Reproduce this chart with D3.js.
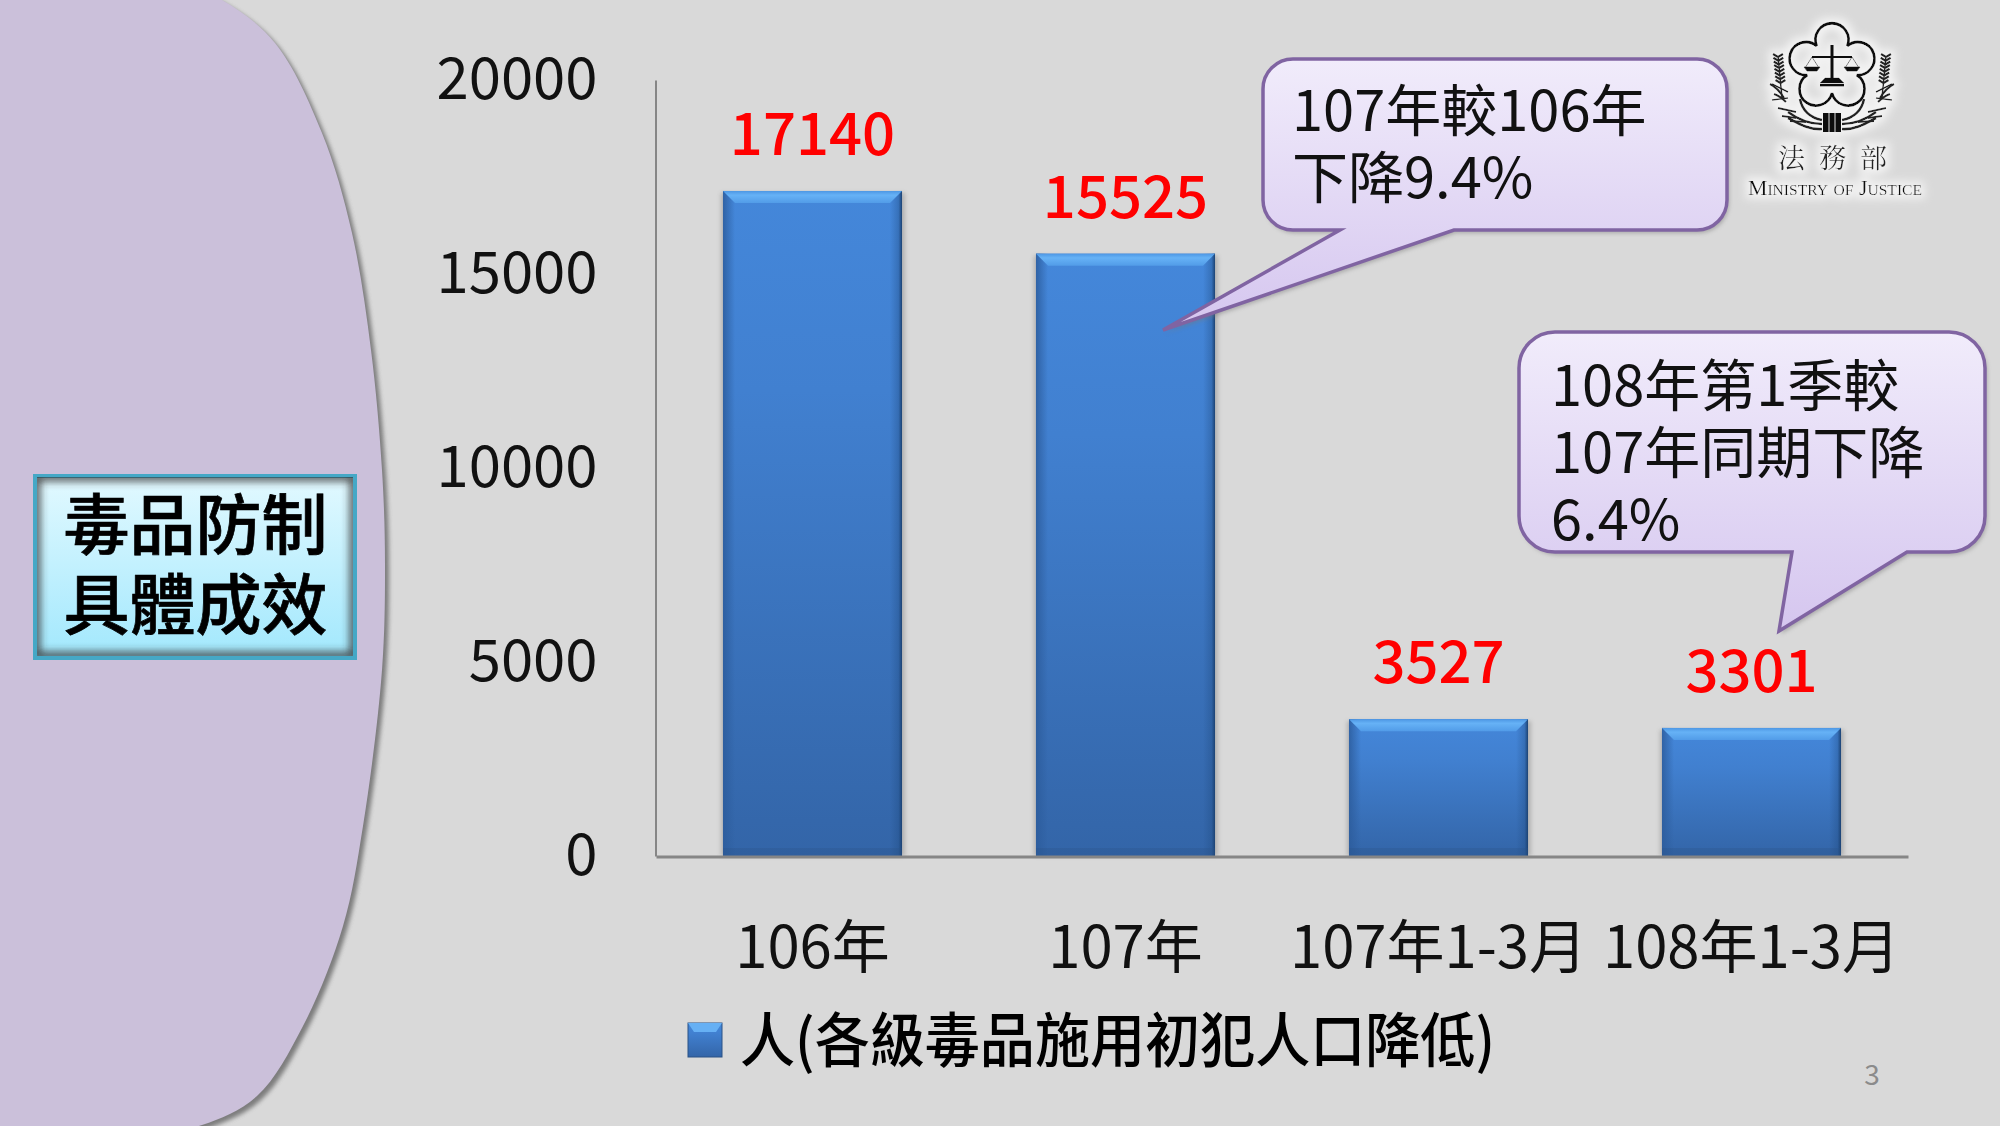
<!DOCTYPE html>
<html><head><meta charset="utf-8">
<script src="https://cdn.jsdelivr.net/npm/d3@7"></script>
<style>html,body{margin:0;padding:0;background:#d9d9d9}svg{display:block}text{font-family:"Noto Sans CJK TC","Noto Sans",sans-serif}</style>
</head><body><svg id="c" width="2000" height="1126"></svg>
<script>
const categories = ["106年","107年","107年1-3月","108年1-3月"];
const personValues = [17140,15525,3527,3301];
const yTicks = [0,5000,10000,15000,20000];
const legendLabel = "人(各級毒品施用初犯人口降低)";
const titleLines = ["毒品防制","具體成效"];
const note1 = ["107年較106年","下降9.4%"];
const note2 = ["108年第1季較","107年同期下降","6.4%"];

const svg = d3.select("#c");
const defs = svg.append("defs");
function lin(id, stops, horiz){
  const g = defs.append("linearGradient").attr("id",id).attr("x1",0).attr("y1",0).attr("x2",horiz?1:0).attr("y2",horiz?0:1);
  stops.forEach(([o,c,a])=>g.append("stop").attr("offset",o).attr("stop-color",c).attr("stop-opacity",a===undefined?1:a));
}
lin("barG",[[0,"#4487da"],[0.3,"#4180d0"],[1,"#3365a8"]]);
lin("noteG",[[0,"#f1ecfb"],[1,"#d5c6ef"]]);
lin("titleG",[[0,"#e2f9ff"],[1,"#a2e8fd"]]);
lin("bevT",[[0,"#4d97e4"],[0.35,"#66b2f6"],[1,"#529ce8"]]);
lin("bevL",[[0,"#2c5c9c",.85],[1,"#2c5c9c",0]],true);
lin("bevR",[[0,"#1f4a80",0],[0.7,"#1f4a80",.35],[1,"#1c4272",1]],true);
const blur=(id,s)=>defs.append("filter").attr("id",id).attr("x","-20%").attr("y","-20%").attr("width","140%").attr("height","140%").append("feGaussianBlur").attr("stdDeviation",s);
blur("b2",2); blur("b4",4);
const gf=defs.append("filter").attr("id","glow").attr("x","-15%").attr("y","-15%").attr("width","130%").attr("height","130%");
gf.append("feMorphology").attr("in","SourceAlpha").attr("operator","dilate").attr("radius",4).attr("result","d");
gf.append("feGaussianBlur").attr("in","d").attr("stdDeviation",4).attr("result","bl");
gf.append("feFlood").attr("flood-color","#f3f3f3").attr("result","f");
gf.append("feComposite").attr("in","f").attr("in2","bl").attr("operator","in").attr("result","g");
const gm=gf.append("feMerge"); gm.append("feMergeNode").attr("in","g"); gm.append("feMergeNode").attr("in","SourceGraphic");

svg.append("rect").attr("width",2000).attr("height",1126).attr("fill","#d9d9d9");

// left panel outline
const panelEdge=[[160,-25],[222,0],[275,43],[322,133],[352,233],[371,350],[382,470],[385,563],[382,670],[363,826],[343,926],[303,1026],[257,1096],[202,1125],[150,1134]];
const panelPath=d3.line().curve(d3.curveCatmullRom)(panelEdge)+"L-10,1134L-10,-25Z";
svg.append("path").attr("d",panelPath).attr("transform","translate(4,4)").attr("fill","#666").attr("opacity",.8).attr("filter","url(#b2)");
svg.append("path").attr("d",panelPath).attr("fill","#cbc0da");

// title box
defs.append("clipPath").attr("id","tc").append("rect").attr("x",37).attr("y",477).attr("width",316).attr("height",179);
svg.append("rect").attr("x",35).attr("y",476).attr("width",320).attr("height",182).attr("fill","url(#titleG)").attr("stroke","#45a8c6").attr("stroke-width",4);
svg.append("g").attr("clip-path","url(#tc)").append("rect").attr("x",36).attr("y",477).attr("width",318).attr("height",179).attr("fill","none").attr("stroke","#333").attr("stroke-width",7).attr("filter","url(#b4)");
svg.selectAll(".tl").data(titleLines).join("text").attr("class","tl").attr("x",195.5)
  .attr("y",(d,i)=>549+i*80).attr("text-anchor","middle").attr("font-size",66).attr("font-weight",500).attr("stroke","#000").attr("stroke-width",.7).attr("fill","#000").text(d=>d);

// chart
const x = d3.scaleBand().domain(categories).range([656,1908]).paddingInner(0.428).paddingOuter(0.214);
const y = d3.scaleLinear().domain([0,20000]).range([856,80]);
const gy = svg.append("g").attr("transform","translate(655.5,0)").call(d3.axisLeft(y).tickValues(yTicks).tickSize(0).tickPadding(58).tickFormat(d3.format("d")));
gy.select(".domain").attr("stroke","#868686").attr("stroke-width",2);
gy.selectAll("text").attr("font-size",58).attr("fill","#111").style("font-family",'"Noto Sans CJK TC"');
const bars = svg.append("g").selectAll("g").data(categories).join("g");
const bv=12;
bars.each(function(c,i){
  const g=d3.select(this), x0=x(c), w=x.bandwidth(), x1=x0+w, t=y(personValues[i]), b=y(0);
  g.append("rect").attr("x",x0-2).attr("y",t+2).attr("width",w+5).attr("height",b-t-2).attr("fill","#777").attr("opacity",.4).attr("filter","url(#b2)");
  g.append("rect").attr("x",x0).attr("y",t).attr("width",w).attr("height",b-t).attr("fill","url(#barG)");
  g.append("rect").attr("x",x0).attr("y",t).attr("width",bv).attr("height",b-t).attr("fill","url(#bevL)");
  g.append("rect").attr("x",x1-bv).attr("y",t).attr("width",bv).attr("height",b-t).attr("fill","url(#bevR)");
  g.append("path").attr("d",`M${x0},${t}L${x1},${t}L${x1-bv},${t+bv}L${x0+bv},${t+bv}Z`).attr("fill","url(#bevT)");
  g.append("rect").attr("x",x0).attr("y",b-8).attr("width",w).attr("height",8).attr("fill","#2c5488").attr("opacity",.3);
});
const gx = svg.append("g").attr("transform","translate(0,856.5)").call(d3.axisBottom(x).tickSize(0).tickPadding(70));
gx.select(".domain").attr("stroke","#868686").attr("stroke-width",3);
gx.selectAll("text").attr("font-size",58).attr("fill","#111").style("font-family",'"Noto Sans CJK TC"');
svg.selectAll(".val").data(personValues).join("text").attr("class","val").attr("text-anchor","middle")
  .attr("x",(d,i)=>x(categories[i])+x.bandwidth()/2).attr("y",d=>y(d)-36).attr("font-size",58).attr("font-weight",500).attr("fill","#f00").text(d=>d);

// callouts
function callout(x0,y0,w,h,r,t1,tip,t2){
  return `M${x0+r},${y0}H${x0+w-r}A${r},${r} 0 0 1 ${x0+w},${y0+r}V${y0+h-r}A${r},${r} 0 0 1 ${x0+w-r},${y0+h}H${t2}L${tip[0]},${tip[1]}L${t1},${y0+h}H${x0+r}A${r},${r} 0 0 1 ${x0},${y0+h-r}V${y0+r}A${r},${r} 0 0 1 ${x0+r},${y0}Z`;
}
[[1263,59,464,171,30,1340,[1163,330],1454],[1519,332,466,220,36,1792,[1779,631],1907]].forEach(a=>{
  const d=callout(...a);
  svg.append("path").attr("d",d).attr("transform","translate(2,3)").attr("fill","#777").attr("opacity",.5).attr("filter","url(#b2)");
  svg.append("path").attr("d",d).attr("fill","url(#noteG)").attr("stroke","#8064a2").attr("stroke-width",3.5);
});
svg.selectAll(".n1").data(note1).join("text").attr("class","n1").attr("x",1292).attr("y",(d,i)=>131+i*67).attr("font-size",56).attr("fill","#111").text(d=>d);
svg.selectAll(".n2").data(note2).join("text").attr("class","n2").attr("x",1551).attr("y",(d,i)=>406+i*67).attr("font-size",56).attr("fill","#111").text(d=>d);

// legend
const lg=svg.append("g");
lg.append("rect").attr("x",688).attr("y",1023).attr("width",34).attr("height",34).attr("fill","url(#barG)").attr("stroke","#2a5286");
lg.append("path").attr("d","M688,1023L722,1023L716,1032L694,1032Z").attr("fill","#66b0f4");
lg.append("text").attr("x",740).attr("y",1062).attr("font-size",59).attr("font-weight",500).attr("textLength",755).attr("lengthAdjust","spacingAndGlyphs").attr("fill","#000").text(legendLabel);

// page number
svg.append("text").attr("x",1872).attr("y",1085).attr("text-anchor","middle").attr("font-size",28).attr("fill","#8b8b8b").text("3");

// logo
const lo=svg.append("g").attr("filter","url(#glow)");
const cx=1832, cy=67, petals=d3.range(5).map(k=>(-90+36+72*k)*Math.PI/180);
const cusp=petals.map(a=>[cx+26*Math.cos(a),cy+26*Math.sin(a)]);
let fp=`M${cusp[0]}`;
for(let k=1;k<=5;k++){fp+=`A16.5,16.5 0 1 1 ${cusp[k%5]}`;}
fp+="Z";
lo.append("path").attr("d",fp).attr("fill","none").attr("stroke","#111").attr("stroke-width",2.8);
const scale=lo.append("g").attr("stroke","#111").attr("fill","#111");
scale.append("line").attr("x1",cx).attr("x2",cx).attr("y1",45).attr("y2",80).attr("stroke-width",3.5);
scale.append("line").attr("x1",cx-20).attr("x2",cx+20).attr("y1",57).attr("y2",57).attr("stroke-width",2);
[-1,1].forEach(s=>{
  scale.append("path").attr("d",`M${cx+s*20},57L${cx+s*13},68L${cx+s*27},68Z`).attr("fill","none").attr("stroke-width",.8);
  scale.append("path").attr("d",`M${cx+s*12},67H${cx+s*28}L${cx+s*25},71H${cx+s*15}Z`).attr("stroke-width",.8);
});
scale.append("path").attr("d",`M${cx-7},78H${cx+7}L${cx+12},83H${cx-12}Z`).attr("stroke-width",.5);
scale.append("rect").attr("x",cx-12).attr("y",84).attr("width",24).attr("height",2.5).attr("stroke-width",0);
[-1,1].forEach(s=>{
  const w=lo.append("g").attr("stroke","#222").attr("fill","none");
  w.append("path").attr("d",`M${cx+s*54},56L${cx+s*50},98`).attr("stroke-width",1.6);
  d3.range(8).forEach(k=>{
    const yy=54+k*3.7, xx=cx+s*(54-k*.35);
    w.append("path").attr("d",`M${xx},${yy+3}l-5,-3M${xx},${yy+3}l5,-3`).attr("stroke-width",2.3);
  });
  w.append("path").attr("d",`M${cx+s*62},84Q${cx+s*54},88 ${cx+s*48},98M${cx+s*58},94Q${cx+s*52},96 ${cx+s*46},102`).attr("stroke-width",2.2);
  w.append("path").attr("d",`M${cx+s*60},84L${cx+s*44},92M${cx+s*60},100L${cx+s*44},98`).attr("stroke-width",1.6);
  w.append("path").attr("d",`M${cx+s*10},124C${cx+s*24},124 ${cx+s*36},118 ${cx+s*44},112M${cx+s*10},120C${cx+s*22},118 ${cx+s*30},110 ${cx+s*32},99M${cx+s*10},129C${cx+s*24},130 ${cx+s*36},122 ${cx+s*44},118`).attr("stroke-width",2.6);
  w.append("path").attr("d",`M${cx+s*36},112l${s*18},-4M${cx+s*36},118l${s*14},-2M${cx+s*26},122l${s*16},-1`).attr("stroke-width",1.8);
});
lo.append("rect").attr("x",cx-9).attr("y",113).attr("width",18).attr("height",19).attr("fill","#111");
lo.append("line").attr("x1",cx-3).attr("x2",cx-3).attr("y1",113).attr("y2",132).attr("stroke","#d9d9d9").attr("stroke-width",1);
lo.append("line").attr("x1",cx+3).attr("x2",cx+3).attr("y1",113).attr("y2",132).attr("stroke","#d9d9d9").attr("stroke-width",1);
lo.append("text").attr("x",1778).attr("y",168).attr("font-size",27).attr("fill","#222").attr("letter-spacing",14).style("font-family",'"Noto Serif CJK TC","Noto Sans CJK TC"').text("法務部");
lo.append("text").attr("x",1748).attr("y",195).attr("font-size",21).attr("textLength",174).attr("lengthAdjust","spacingAndGlyphs").attr("fill","#111").style("font-family",'"Liberation Serif"').style("font-variant","small-caps").style("font-weight",500).text("Ministry of Justice");
</script></body></html>
